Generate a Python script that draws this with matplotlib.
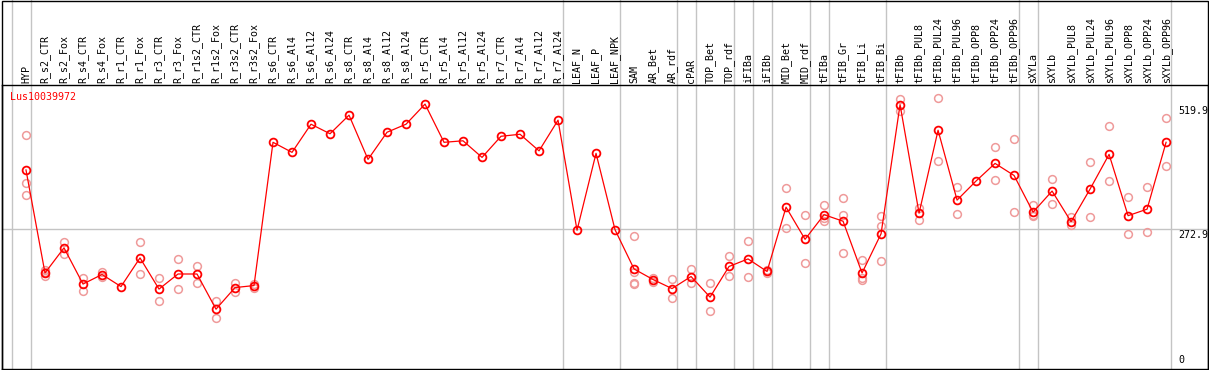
import matplotlib
matplotlib.use("Agg")
import matplotlib.pyplot as plt
from matplotlib.patches import Rectangle
from matplotlib.lines import Line2D
import matplotlib.transforms as mtransforms

# ---------------- data ----------------
gene = "Lus10039972"

categories = [
    "HYP", "R_s2_CTR", "R_s2_Fox", "R_s4_CTR", "R_s4_Fox", "R_r1_CTR", "R_r1_Fox",
    "R_r3_CTR", "R_r3_Fox", "R_r1s2_CTR", "R_r1s2_Fox", "R_r3s2_CTR", "R_r3s2_Fox",
    "R_s6_CTR", "R_s6_Al4", "R_s6_Al12", "R_s6_Al24", "R_s8_CTR", "R_s8_Al4",
    "R_s8_Al12", "R_s8_Al24", "R_r5_CTR", "R_r5_Al4", "R_r5_Al12", "R_r5_Al24",
    "R_r7_CTR", "R_r7_Al4", "R_r7_Al12", "R_r7_Al24", "LEAF_N", "LEAF_P", "LEAF_NPK",
    "SAM", "AR_Bet", "AR_rdf", "cPAR", "TOP_Bet", "TOP_rdf", "iFIBa", "iFIBb",
    "MID_Bet", "MID_rdf", "tFIBa", "tFIB_Gr", "tFIB_Li", "tFIB_Bi", "tFIBb",
    "tFIBb_PUL8", "tFIBb_PUL24", "tFIBb_PUL96", "tFIBb_OPP8", "tFIBb_OPP24",
    "tFIBb_OPP96", "sXYLa", "sXYLb", "sXYLb_PUL8", "sXYLb_PUL24", "sXYLb_PUL96",
    "sXYLb_OPP8", "sXYLb_OPP24", "sXYLb_OPP96",
]

means = [
    390, 185, 235, 163, 182, 158, 215,
    153, 183, 183, 113, 156, 160,
    445, 425, 481, 462, 499, 411,
    465, 481, 521, 445, 448, 415,
    457, 461, 428, 489, 270, 423, 271,
    193, 172, 154, 178, 137, 198, 213, 188,
    316, 252, 301, 288, 185, 263, 519.9,
    304, 469, 330, 368, 403,
    379, 306, 348, 287, 352, 421,
    299, 312, 445,
]

replicates = [
    [460, 365, 341], [190, 186, 179], [246, 223], [175, 150], [186, 178], [], [246, 183],
    [175, 129], [213, 153], [198, 166], [130, 96], [166, 148], [164, 155],
    [], [], [], [], [], [],
    [], [], [], [], [], [],
    [], [], [], [], [], [], [],
    [258, 186, 166, 163], [175, 168], [173, 135], [192, 166], [165, 109], [218, 179],
    [249, 178], [190, 185],
    [355, 275], [301, 204], [321, 295, 288], [334, 301, 225], [210, 175, 172],
    [299, 279, 209], [532, 508],
    [315, 291], [533, 408], [357, 303], [], [435, 371],
    [451, 307], [321, 300, 298], [372, 323], [296, 280], [406, 296], [478, 368],
    [336, 263], [356, 267], [493, 397],
]

# group separators: index of last category in each group (-1 = before first)
separators = [-1, 0, 28, 31, 34, 35, 37, 38, 39, 41, 42, 45, 52, 53, 60]

ytick_values = [0, 272.9, 519.9]
ytick_labels = ["0", "272.9", "519.9"]

# ---------------- layout ----------------
W, H = 1209, 370
DPI = 100
fig = plt.figure(figsize=(W / DPI, H / DPI), dpi=DPI)
fig.patch.set_facecolor("white")

ax_left, ax_right = 1.5, 1207.5
ax_top, ax_bot = 85.0, 368.5
ax = fig.add_axes([ax_left / W, (H - ax_bot) / H,
                   (ax_right - ax_left) / W, (ax_bot - ax_top) / H])
ax_h = ax_bot - ax_top

x_pos = list(range(len(categories)))
ax.set_xlim(-1.289, 62.18)
ax.set_ylim(-5, 559)
ax.set_xticks([])
ax.set_yticks([])
for s in ax.spines.values():
    s.set_color("black")
    s.set_linewidth(1.0)

mono = "DejaVu Sans Mono"
grid_col = "#c4c4c4"

# vertical separators spanning header too
xt = ax.get_xaxis_transform()
header_frac = 1 + ax_top / ax_h
for sep in separators:
    ax.plot([sep + 0.24, sep + 0.24], [0, header_frac], transform=xt,
            color=grid_col, lw=1.0, clip_on=False, zorder=1)

# horizontal reference line
ax.axhline(ytick_values[1], color=grid_col, lw=1.0, zorder=1)

# replicate points
rep_x, rep_y = [], []
for i, reps in enumerate(replicates):
    for r in reps:
        rep_x.append(x_pos[i])
        rep_y.append(r)
ax.plot(rep_x, rep_y, linestyle="none", marker="o", markersize=5.6,
        markerfacecolor="none", markeredgecolor="#ef9a9a", markeredgewidth=1.1,
        zorder=2)

# mean line
ax.plot(x_pos, means, color="red", lw=0.9, marker="o", markersize=5.6,
        markerfacecolor="none", markeredgecolor="red", markeredgewidth=1.3,
        zorder=3)

# category labels in header
for i, lab in enumerate(categories):
    ax.text(x_pos[i], 1 + 2.5 / ax_h, lab, transform=xt, rotation=90,
            ha="center", va="bottom", fontsize=7.2, family=mono, color="black")

# gene name
ax.text((10 - ax_left) / (ax_right - ax_left), 1 - 6.5 / ax_h, gene,
        transform=ax.transAxes, ha="left", va="top", fontsize=7.2,
        family=mono, color="red")

# y labels inside right side
lab_x = (1178 - ax_left) / (ax_right - ax_left)
off = mtransforms.offset_copy(ax.get_yaxis_transform(), fig=fig, x=0, y=-1.5,
                              units="dots")
blend = mtransforms.blended_transform_factory(ax.transAxes, ax.transData)
for v, t in zip(ytick_values, ytick_labels):
    if v == 0:
        ax.text(lab_x, 3.5 / ax_h, t, transform=ax.transAxes, ha="left",
                va="bottom", fontsize=7.2, family=mono, color="black")
    else:
        tr = mtransforms.offset_copy(blend, fig=fig, x=0, y=-1.5, units="dots")
        ax.text(lab_x, v, t, transform=tr, ha="left", va="top",
                fontsize=7.2, family=mono, color="black")

# outer frame
fig.add_artist(Rectangle((1.5 / W, 0.5 / H), (W - 2.5) / W, (H - 1.0) / H,
                         transform=fig.transFigure, fill=False,
                         edgecolor="black", lw=1.0))

fig.savefig("out.png", dpi=DPI, facecolor="white")
